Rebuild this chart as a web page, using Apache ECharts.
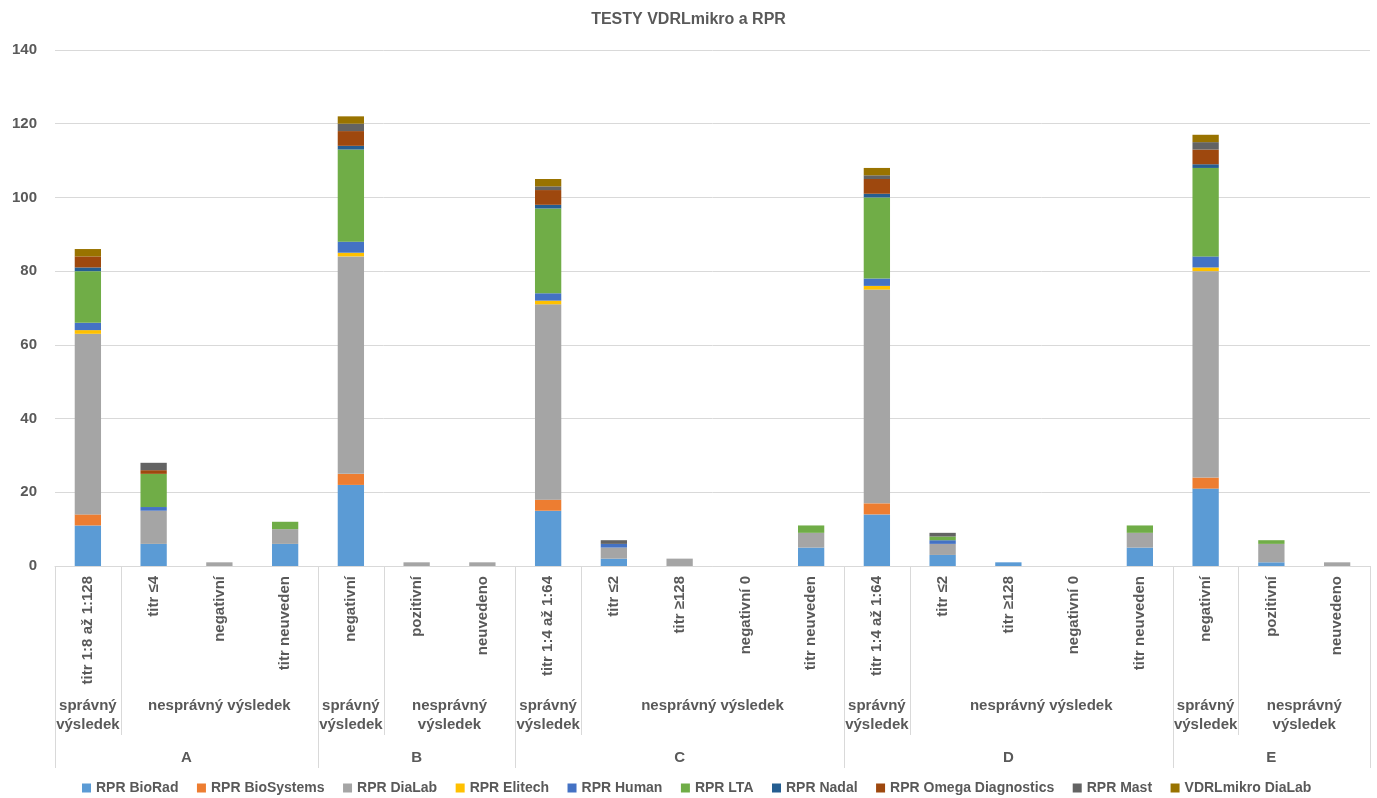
<!DOCTYPE html>
<html>
<head>
<meta charset="utf-8">
<script src="https://cdn.jsdelivr.net/npm/echarts@6/dist/echarts.min.js"></script>
<style>
html,body{margin:0;padding:0;background:#fff;}
#chart{width:1377px;height:798px;}
</style>
</head>
<body>
<div id="chart"></div>
<script>
// ---- data ----
const categories = [
  'titr 1:8 až 1:128','titr ≤4','negativní','titr neuveden',
  'negativní','pozitivní','neuvedeno',
  'titr 1:4 až 1:64','titr ≤2','titr ≥128','negativní 0','titr neuveden',
  'titr 1:4 až 1:64','titr ≤2','titr ≥128','negativní 0','titr neuveden',
  'negativní','pozitivní','neuvedeno'
];
const subLabels = ['správný výsledek','nesprávný výsledek','správný výsledek','nesprávný výsledek',
  'správný výsledek','nesprávný výsledek','správný výsledek','nesprávný výsledek',
  'správný výsledek','nesprávný výsledek'];
const subSpans = [1,3,1,2,1,4,1,4,1,2];
const groupLabels = ['A','B','C','D','E'];
const groupSpans = [4,3,5,5,3];

const seriesNames = ['RPR BioRad','RPR BioSystems','RPR DiaLab','RPR Elitech','RPR Human','RPR LTA','RPR Nadal','RPR Omega Diagnostics','RPR Mast','VDRLmikro DiaLab'];
const bioRad      = [11,6,0,6, 22,0,0, 15,2,0,0,5, 14,3,1,0,5, 21,1,0];
const bioSystems  = [3,0,0,0, 3,0,0, 3,0,0,0,0, 3,0,0,0,0, 3,0,0];
const diaLab      = [49,9,1,4, 59,1,1, 53,3,2,0,4, 58,3,0,0,4, 56,5,1];
const elitech     = [1,0,0,0, 1,0,0, 1,0,0,0,0, 1,0,0,0,0, 1,0,0];
const human       = [2,1,0,0, 3,0,0, 2,1,0,0,0, 2,1,0,0,0, 3,0,0];
const lta         = [14,9,0,2, 25,0,0, 23,0,0,0,2, 22,1,0,0,2, 24,1,0];
const nadal       = [1,0,0,0, 1,0,0, 1,0,0,0,0, 1,0,0,0,0, 1,0,0];
const omega       = [3,1,0,0, 4,0,0, 4,0,0,0,0, 4,0,0,0,0, 4,0,0];
const mast        = [0,2,0,0, 2,0,0, 1,1,0,0,0, 1,1,0,0,0, 2,0,0];
const vdrlDiaLab  = [2,0,0,0, 2,0,0, 2,0,0,0,0, 2,0,0,0,0, 2,0,0];
const seriesValues = [bioRad,bioSystems,diaLab,elitech,human,lta,nadal,omega,mast,vdrlDiaLab];
const colors = ['#5B9BD5','#ED7D31','#A5A5A5','#FFC000','#4472C4','#70AD47','#255E91','#9E480E','#636363','#997300'];
const yTicks = {min:0, max:140, interval:20};

// ---- build hierarchical axis helpers (half-category positions) ----
function buildLevel(labels, spans, wrap) {
  const n = categories.length * 2 + 1;
  const lab = new Array(n).fill('');
  const bounds = new Set();
  let start = 0;
  labels.forEach((t, k) => {
    const s = spans[k];
    bounds.add(2 * start);
    lab[2 * start + s] = (wrap && s <= 2) ? t.replace(' ', '\n') : t;
    start += s;
    bounds.add(2 * start);
  });
  return {lab, bounds, keys: lab.map((_, i) => String(i))};
}
const lvl2 = buildLevel(subLabels, subSpans, true);
const lvl3 = buildLevel(groupLabels, groupSpans, false);

const txt = '#595959';
const font = 'Liberation Sans, Arial, sans-serif';
const lineCol = '#D9D9D9';

function levelAxis(lvl, margin, tickLen) {
  return {
    type: 'category', position: 'bottom', gridIndex: 0, boundaryGap: false,
    data: lvl.keys,
    axisLine: {show: false},
    axisTick: {show: true, length: tickLen, interval: (i) => lvl.bounds.has(i), lineStyle: {color: lineCol, width: 1}},
    axisLabel: {
      show: true, margin: margin, interval: (i) => lvl.lab[i] !== '',
      formatter: (v) => lvl.lab[+v], color: txt, fontFamily: font, fontWeight: 'bold',
      fontSize: 15, lineHeight: 19, align: 'center', verticalAlign: 'top'
    },
    splitLine: {show: false}
  };
}

const chart = echarts.init(document.getElementById('chart'), null, {renderer: 'canvas'});
chart.setOption({
  animation: false,
  color: colors,
  title: {
    text: 'TESTY VDRLmikro a RPR', left: 'center', top: 7,
    textStyle: {color: txt, fontFamily: font, fontWeight: 'bold', fontSize: 16}
  },
  legend: {
    top: 776, left: 77, itemWidth: 9, itemHeight: 9, itemGap: 18.5, icon: 'rect',
    textStyle: {color: txt, fontFamily: font, fontWeight: 'bold', fontSize: 14},
    data: seriesNames
  },
  grid: {left: 55, right: 7, top: 50, bottom: 232, containLabel: false, outerBoundsMode: 'none'},
  xAxis: [
    {
      type: 'category', position: 'bottom', data: categories,
      axisLine: {show: true, lineStyle: {color: lineCol, width: 1}},
      axisTick: {show: false},
      axisLabel: {interval: 0, rotate: 90, margin: 10, color: txt, fontFamily: font, fontWeight: 'bold', fontSize: 15}
    },
    levelAxis(lvl2, 130, 169),
    levelAxis(lvl3, 182, 202)
  ],
  yAxis: {
    type: 'value', min: yTicks.min, max: yTicks.max, interval: yTicks.interval,
    axisLine: {show: false}, axisTick: {show: false},
    axisLabel: {margin: 18, color: txt, fontFamily: font, fontWeight: 'bold', fontSize: 15},
    splitLine: {lineStyle: {color: lineCol, width: 1}}
  },
  series: seriesNames.map((name, k) => ({
    name: name, type: 'bar', stack: 'total', xAxisIndex: 0, barWidth: '40%',
    data: seriesValues[k], itemStyle: {color: colors[k]}
  }))
});
</script>
</body>
</html>
